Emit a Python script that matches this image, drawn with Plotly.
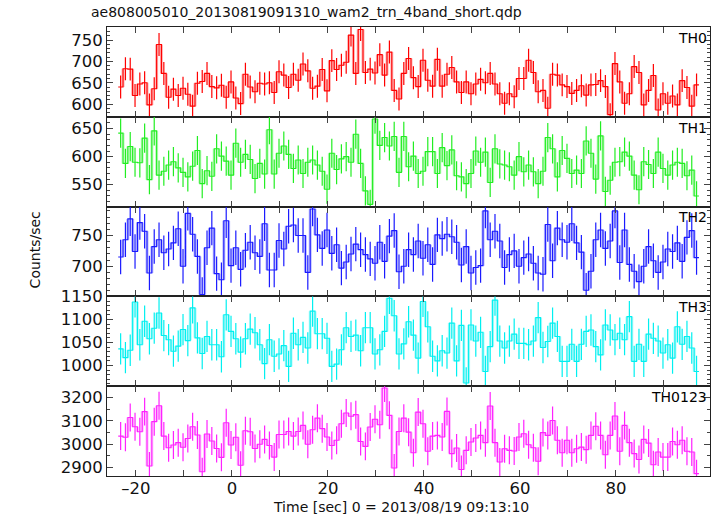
import plotly.graph_objects as go
from plotly.subplots import make_subplots

# ---- data -------------------------------------------------------------
t_start = -23.7        # left edge of first bin (sec)
bin_width = 1.0

th0 = [640, 683, 682, 620, 647, 650, 598, 636, 740, 672, 616, 635, 620, 637, 623, 595,
       649, 653, 672, 641, 638, 644, 616, 652, 614, 601, 670, 640, 629, 649, 647, 650,
       627, 676, 668, 639, 670, 656, 694, 678, 637, 642, 681, 631, 702, 681, 691, 698,
       762, 672, 775, 674, 682, 673, 716, 668, 722, 632, 612, 672, 707, 662, 641, 703,
       656, 642, 705, 642, 670, 686, 652, 627, 652, 624, 647, 658, 650, 672, 647, 624,
       602, 624, 617, 660, 660, 703, 674, 629, 632, 590, 670, 668, 645, 641, 625, 632,
       643, 621, 645, 646, 655, 641, 575, 695, 652, 602, 624, 688, 674, 598, 632, 667,
       586, 624, 602, 619, 598, 655, 639, 595, 645]

th1 = [642, 588, 618, 590, 589, 633, 559, 646, 567, 574, 585, 591, 580, 572, 564, 583,
       611, 552, 575, 565, 614, 601, 592, 567, 624, 590, 604, 595, 561, 588, 569, 648,
       569, 606, 619, 604, 579, 594, 570, 590, 594, 585, 574, 542, 606, 577, 596, 600,
       590, 640, 588, 539, 515, 667, 620, 634, 619, 636, 572, 636, 582, 601, 570, 574,
       609, 609, 570, 616, 584, 612, 566, 564, 552, 570, 610, 590, 608, 554, 614, 587,
       585, 582, 567, 600, 573, 585, 573, 552, 574, 634, 614, 564, 611, 597, 570, 576,
       570, 628, 606, 560, 637, 538, 558, 590, 591, 608, 601, 567, 541, 591, 586, 570,
       608, 579, 567, 585, 590, 588, 566, 576, 530]

th2 = [715, 743, 777, 724, 771, 757, 689, 732, 743, 722, 728, 738, 761, 700, 786, 752,
       716, 654, 730, 762, 688, 678, 774, 701, 730, 695, 726, 739, 722, 716, 769, 694,
       694, 742, 728, 765, 767, 750, 750, 690, 793, 751, 729, 759, 721, 735, 697, 707,
       720, 736, 727, 719, 712, 705, 739, 708, 749, 758, 691, 700, 727, 719, 741, 713,
       735, 703, 751, 745, 752, 748, 739, 702, 732, 689, 698, 701, 790, 743, 757, 741,
       698, 719, 725, 700, 714, 720, 705, 689, 687, 768, 709, 762, 743, 739, 769, 738,
       723, 661, 692, 743, 759, 729, 741, 790, 706, 759, 703, 692, 675, 700, 732, 709,
       690, 707, 728, 724, 738, 708, 747, 758, 714]

th3 = [1036, 1017, 1033, 1138, 1045, 1096, 1058, 1081, 1114, 1065, 1056, 1031, 1042, 1078,
       1054, 1125, 1060, 1026, 1063, 1045, 1045, 1019, 1110, 1074, 1058, 1029, 1058, 1079,
       1071, 1045, 1004, 1056, 1020, 1025, 1043, 998, 1070, 1045, 1061, 1038, 1118, 1069,
       1069, 1059, 998, 1003, 1034, 1082, 1063, 1066, 1032, 1082, 1082, 1025, 1034, 1074,
       1146, 1108, 1025, 1047, 1095, 1066, 1016, 1139, 1084, 1020, 1010, 1032, 1027, 1092,
       1010, 1087, 962, 1088, 1053, 1072, 987, 1041, 1142, 1053, 1038, 1053, 1068, 1048,
       1048, 1045, 1053, 1104, 1039, 1052, 1092, 1063, 1009, 1009, 1046, 1009, 1046, 1074,
       1077, 1041, 1023, 1088, 1077, 1056, 1070, 1056, 1106, 1009, 1046, 1009, 1068, 1059,
       1053, 1027, 1045, 1016, 1084, 1046, 1063, 1038, 987]

th0123 = [3034, 3029, 3114, 3074, 3053, 3139, 2906, 3096, 3164, 3034, 2984, 2996, 3006,
          2986, 3024, 3074, 3039, 2881, 3043, 3013, 2981, 2943, 3091, 2996, 3029, 2909,
          3057, 3053, 2981, 2999, 3020, 2994, 2944, 3041, 3041, 3054, 3034, 3054, 3080,
          2999, 3061, 3111, 3066, 3030, 2994, 3016, 3087, 3133, 3119, 3126, 3011, 2990,
          3073, 3106, 3083, 3240, 3123, 2897, 3054, 3111, 3051, 2963, 3137, 3087, 2969,
          3034, 3037, 3030, 3140, 2959, 2983, 2891, 2973, 3009, 3026, 3037, 3006, 3163,
          3006, 2923, 2980, 2973, 2970, 3030, 3044, 2997, 2984, 2926, 3049, 3037, 3101,
          3016, 2963, 3016, 2963, 2980, 2987, 2976, 3037, 3076, 3037, 2954, 3037, 3120,
          2969, 3080, 3006, 2959, 2934, 3020, 3004, 2911, 2966, 2944, 2944, 3011, 2997,
          3016, 2969, 2966, 2873]

errors = [27, 26, 28, 34, 60]          # 1-sigma error per bin, each band
band_names = ["TH0", "TH1", "TH2", "TH3", "TH0123"]
band_values = [th0, th1, th2, th3, th0123]
colors = ["#ff0000", "#22ee22", "#1a1aff", "#00f0f0", "#ff22ff"]
pale = ["rgba(255,0,0,0.3)", "rgba(34,238,34,0.3)", "rgba(26,26,255,0.3)",
        "rgba(0,240,240,0.3)", "rgba(255,34,255,0.3)"]

y_ranges = [[570, 781], [511, 671], [651, 797], [955, 1150], [2863, 3248]]
y_ticks = [[600, 650, 700, 750], [550, 600, 650], [700, 750],
           [1000, 1050, 1100, 1150], [2900, 3000, 3100, 3200]]
y_minor = [10, 10, 10, 10, 50]

x_range = [-26.04, 99.6]
x_tickvals = [-20, -10, 0, 10, 20, 30, 40, 50, 60, 70, 80, 90]
x_ticktext = ["\u201320", "", "0", "", "20", "", "40", "", "60", "", "80", ""]

title_text = "ae808005010_20130819091310_wam2_trn_4band_short.qdp"
x_title = "Time [sec] 0 = 2013/08/19 09:13:10"
y_title = "Counts/sec"

FONT = "DejaVu Sans, Verdana, sans-serif"
TICK_SIZE = 16.5
TEXT_SIZE = 14

# ---- figure -----------------------------------------------------------
fig = make_subplots(rows=5, cols=1, shared_xaxes=True, vertical_spacing=0)

for k, vals in enumerate(band_values):
    n = len(vals)
    row = k + 1
    edges = [t_start + bin_width * i for i in range(n + 1)]
    centers = [t_start + bin_width * (i + 0.5) for i in range(n)]

    # pale vertical transitions
    vx, vy = [], []
    for i in range(1, n):
        vx += [edges[i], edges[i], None]
        vy += [vals[i - 1], vals[i], None]
    fig.add_trace(go.Scatter(x=vx, y=vy, mode="lines",
                             line=dict(color=pale[k], width=3),
                             hoverinfo="skip", showlegend=False), row=row, col=1)
    # step line
    fig.add_trace(go.Scatter(x=edges, y=vals + [vals[-1]], mode="lines",
                             line=dict(color=colors[k], width=1.1, shape="hv"),
                             showlegend=False), row=row, col=1)
    # error bars
    fig.add_trace(go.Scatter(x=centers, y=vals, mode="markers",
                             marker=dict(size=1, color=colors[k], opacity=0),
                             error_y=dict(type="constant", value=errors[k],
                                          color=colors[k], thickness=1.2, width=0),
                             showlegend=False), row=row, col=1)

    fig.update_yaxes(row=row, col=1, range=y_ranges[k], tickvals=y_ticks[k],
                     ticks="inside", ticklen=6, tickcolor="#444", tickwidth=1,
                     minor=dict(dtick=y_minor[k], tick0=0, ticks="inside", ticklen=3,
                                tickcolor="#444", tickwidth=1),
                     showline=True, linecolor="#222", linewidth=1, mirror="allticks",
                     showgrid=False, zeroline=False,
                     tickfont=dict(family=FONT, size=TICK_SIZE, color="#111"),
                     ticklabelstandoff=0)
    fig.update_xaxes(row=row, col=1, range=x_range, tickvals=x_tickvals,
                     ticktext=x_ticktext,
                     ticks="inside", ticklen=6, tickcolor="#444", tickwidth=1,
                     showline=True, linecolor="#222", linewidth=1, mirror="allticks",
                     showgrid=False, zeroline=False,
                     showticklabels=(row == 5),
                     ticklabelstandoff=-3,
                     tickfont=dict(family=FONT, size=TICK_SIZE, color="#111"))

    # panel label
    dom_top = 1 - 0.2 * k
    fig.add_annotation(text=band_names[k], xref="paper", yref="paper",
                       x=0.998, y=dom_top - 0.024, xanchor="right", yanchor="middle",
                       showarrow=False, font=dict(family=FONT, size=TEXT_SIZE, color="#000"))

fig.add_annotation(text=y_title, xref="paper", yref="paper", x=-0.119, y=0.503,
                   textangle=-90, showarrow=False, xanchor="center", yanchor="middle",
                   font=dict(family=FONT, size=TEXT_SIZE, color="#111"))
fig.add_annotation(text=x_title, xref="paper", yref="paper", x=0.4876, y=-0.069,
                   showarrow=False, xanchor="center", yanchor="middle",
                   font=dict(family=FONT, size=TEXT_SIZE, color="#111"))
fig.add_annotation(text=title_text, xref="paper", yref="paper",
                   x=(89 - 107) / 603, y=(476 - 12) / 449,
                   showarrow=False, xanchor="left", yanchor="middle",
                   font=dict(family=FONT, size=TEXT_SIZE, color="#111"))

fig.update_layout(
    width=717, height=516,
    margin=dict(l=107, r=7, t=27, b=40),
    paper_bgcolor="white", plot_bgcolor="white",
    showlegend=False,
)

fig.write_html("out.html", config={"displayModeBar": False},
               post_script="document.body.style.margin='0';document.body.style.overflow='hidden';")
